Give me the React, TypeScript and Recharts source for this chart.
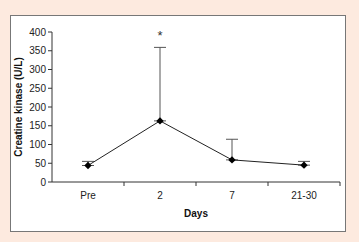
import { ComposedChart, Line, XAxis, YAxis, ErrorBar, ReferenceDot } from 'recharts'

const days = ['Pre', '2', '7', '21-30']
const ckMean = [44, 163, 59, 45]
const ckSdUp = [11, 196, 55, 10]
const yTicks = [0, 50, 100, 150, 200, 250, 300, 350, 400]
const xTicks = [0, 0.5, 1, 1.5, 2, 2.5, 3, 3.5]
const significant = [{ day: 1, label: '*' }]

const data = days.map((d, i) => ({
  x: i,
  day: d,
  ck: ckMean[i],
  err: [0, ckSdUp[i]],
}))

const font = '"Liberation Sans", Arial, sans-serif'

function Diamond(props: any) {
  const { cx, cy } = props
  if (cx == null || cy == null) return null
  const r = 3.7
  return (
    <polygon
      points={`${cx},${cy - r} ${cx + r},${cy} ${cx},${cy + r} ${cx - r},${cy}`}
      fill="#000"
    />
  )
}

function DayTick(props: any) {
  const { x, y, payload } = props
  const v = payload.value
  if (Number.isInteger(v)) {
    return (
      <text x={x} y={y + 9} textAnchor="middle" fontSize={10} fill="#222" fontFamily={font}>
        {days[v]}
      </text>
    )
  }
  return <line x1={x} x2={x} y1={y - 8} y2={y - 4} stroke="#333" />
}

export default function App() {
  return (
    <div
      style={{
        position: 'fixed',
        left: 0,
        top: 0,
        width: 359,
        height: 242,
        background: '#fdeadf',
        fontFamily: font,
      }}
    >
      <div
        style={{
          position: 'absolute',
          left: 10,
          top: 15,
          width: 334,
          height: 215,
          background: '#fff',
          border: '1px solid #777',
        }}
      />
      <div style={{ position: 'absolute', left: 0, top: 0 }}>
        <ComposedChart width={359} height={242} data={data} margin={{ top: 32, right: 19, bottom: 30, left: 10 }}>
          <XAxis
            dataKey="x"
            type="number"
            domain={[-0.5, 3.5]}
            ticks={xTicks}
            interval={0}
            tickLine={false}
            tick={<DayTick />}
            height={30}
            stroke="#333"
            label={{ value: 'Days', position: 'insideBottom', offset: -5, fontSize: 10, fontWeight: 700, fill: '#111', fontFamily: font }}
          />
          <YAxis
            domain={[0, 400]}
            ticks={yTicks}
            interval={0}
            width={42}
            tickSize={4}
            stroke="#333"
            tick={{ fontSize: 10, fill: '#222', fontFamily: font }}
            label={{
              value: 'Creatine kinase (U/L)',
              angle: -90,
              position: 'insideLeft',
              offset: 8,
              style: { textAnchor: 'middle', fontSize: 10, fontWeight: 700, fill: '#111', fontFamily: font },
            }}
          />
          <Line
            dataKey="ck"
            stroke="#222"
            strokeWidth={1}
            dot={<Diamond />}
            activeDot={false}
            isAnimationActive={false}
          >
            <ErrorBar dataKey="err" width={6} stroke="#555" strokeWidth={1} direction="y" />
          </Line>
          {significant.map((s) => (
            <ReferenceDot
              key={s.day}
              x={s.day}
              y={400}
              r={0}
              label={{ value: s.label, position: 'center', fontSize: 13, fill: '#333', dy: 3 }}
            />
          ))}
        </ComposedChart>
      </div>
    </div>
  )
}
